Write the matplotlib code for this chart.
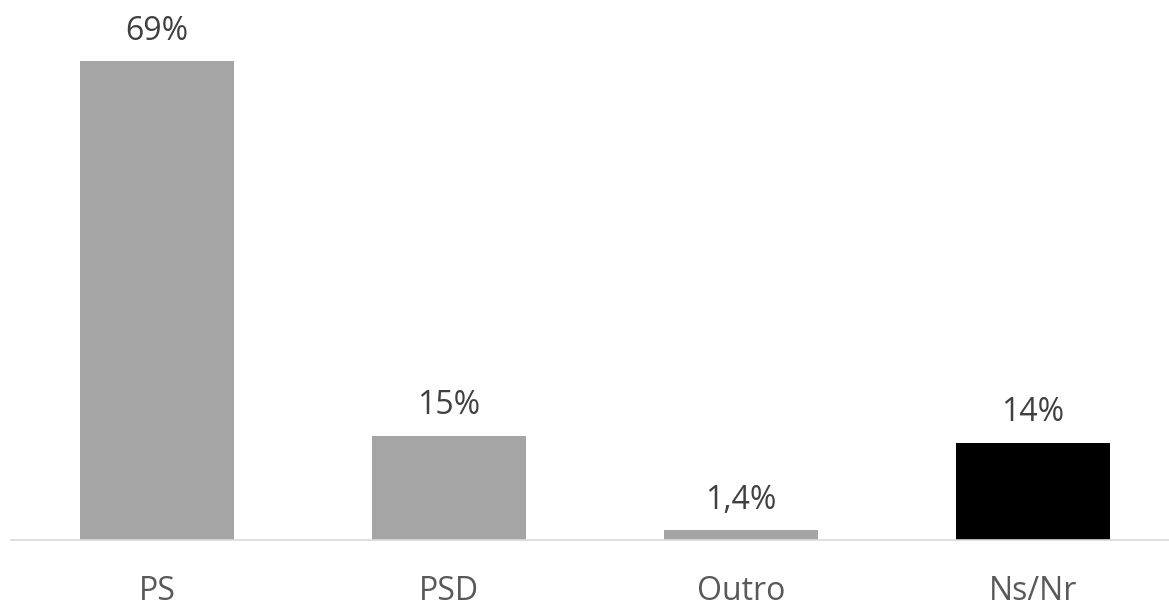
import numpy as np
import matplotlib.pyplot as plt

plt.rcParams['font.family'] = ['Open Sans', 'DejaVu Sans']

# values
categories = ['PS', 'PSD', 'Outro', 'Ns/Nr']
values = [69, 15, 1.4, 14]
labels = ['69%', '15%', '1,4%', '14%']
colors = ['#A5A5A5', '#A5A5A5', '#A5A5A5', '#000000']

fig = plt.figure(figsize=(11.69, 6.06), dpi=100)
ax = fig.add_axes([11 / 1169, 66 / 606, 1168 / 1169, 540 / 606])

x = np.arange(len(categories))
bars = ax.bar(x, values, width=0.527, color=colors)

for b, lab in zip(bars, labels):
    ax.annotate(lab, (b.get_x() + b.get_width() / 2, b.get_height()),
                xytext=(0, 15.5), textcoords='offset points',
                ha='center', va='baseline', fontsize=23, color='#404040')

ax.set_xlim(-0.5, 3.5)
ax.set_ylim(0, 77.8)
ax.set_xticks(x)
ax.set_xticklabels(categories, fontsize=23, color='#595959')
ax.tick_params(axis='x', length=0, pad=25)
ax.set_yticks([])
for s in ['top', 'left', 'right']:
    ax.spines[s].set_visible(False)
ax.spines['bottom'].set_color('#D9D9D9')
ax.spines['bottom'].set_linewidth(1.2)

plt.savefig('out.png', dpi=100)
